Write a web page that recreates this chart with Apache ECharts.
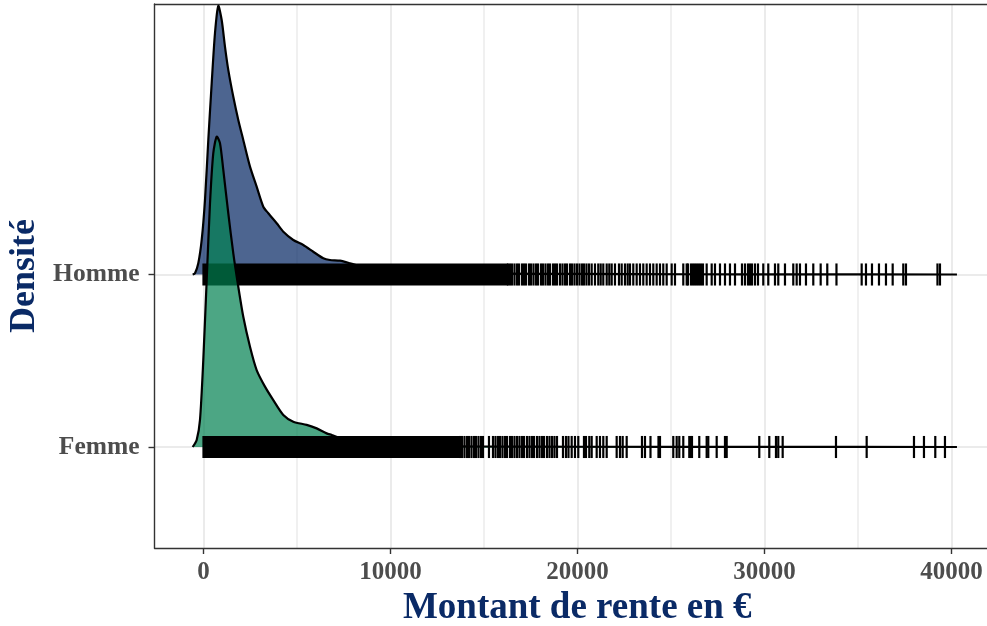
<!DOCTYPE html>
<html>
<head>
<meta charset="utf-8">
<script src="https://cdn.jsdelivr.net/npm/echarts@6/dist/echarts.min.js"></script>
<style>
  html, body { margin: 0; padding: 0; background: #ffffff; }
  #chart { width: 987px; height: 626px; }
</style>
</head>
<body>
<div id="chart"></div>
<script>
// Groups on the ridge axis (Femme = 1, Homme = 2)
const groups = ['Femme', 'Homme'];

// Axis ticks
const xTicks = [0, 10000, 20000, 30000, 40000];
const xMinorTicks = [5000, 15000, 25000, 35000];
const yTicks = [1, 2];

// Scaled density curve, Homme (amount in €, ridge height)
const hommeDensityX = [-578, -455, -278, -96, 80, 257, 438, 615, 791, 973, 1150, 1326, 1594, 1861, 2128, 2487, 2843, 3198, 3465, 3914, 4270, 4802, 5337, 5872, 6406, 6763, 7300, 7834, 8600, 9500, 11000, 13000, 16000, 20000, 26000, 32000, 40294];
const hommeDensityH = [0, 0.007, 0.065, 0.2, 0.432, 0.78, 1.108, 1.40, 1.557, 1.475, 1.32, 1.186, 1.03, 0.896, 0.78, 0.625, 0.509, 0.393, 0.355, 0.297, 0.248, 0.2, 0.171, 0.132, 0.094, 0.084, 0.08, 0.065, 0.04, 0.025, 0.015, 0.009, 0.005, 0.003, 0.0015, 0.0008, 0];

// Scaled density curve, Femme
const femmeDensityX = [-578, -364, -187, -11, 171, 348, 524, 706, 882, 1059, 1326, 1594, 1861, 2128, 2487, 2843, 3288, 3733, 4268, 4802, 5519, 6053, 6588, 6856, 7500, 8500, 10000, 12000, 15000, 20000, 30000, 40294];
const femmeDensityH = [0, 0.041, 0.157, 0.504, 0.968, 1.413, 1.703, 1.799, 1.761, 1.606, 1.355, 1.123, 0.929, 0.755, 0.581, 0.446, 0.35, 0.272, 0.186, 0.147, 0.128, 0.108, 0.079, 0.07, 0.045, 0.025, 0.012, 0.006, 0.003, 0.0015, 0.0005, 0];

// Rug: stretches where the individual amounts merge into one black band
const hommeRugBands = [[0, 16230]];
const femmeRugBands = [[0, 13650]];

// Rug: individual amounts (€)
const hommeRug = [16283, 16390, 16497, 16631, 16765, 16872, 17032, 17139, 17246, 17406, 17513, 17647, 17781, 17888, 18048, 18155, 18289, 18422, 18529, 18690, 18797, 18904, 19064, 19198, 19332, 19438, 19599, 19706, 19840, 19973, 20107, 20241, 20348, 20481, 20615, 20759, 20936, 21112, 21241, 21380, 21562, 21701, 21829, 22005, 22219, 22364, 22540, 22685, 22808, 22984, 23166, 23342, 23519, 23700, 23877, 24054, 24235, 24412, 24588, 24770, 25037, 25214, 25658, 25840, 25909, 26070, 26177, 26283, 26390, 26497, 26604, 26711, 26909, 27177, 27353, 27621, 27888, 28155, 28423, 28797, 28957, 29118, 29225, 29332, 29492, 29653, 29936, 30203, 30562, 30738, 31096, 31540, 31722, 31898, 32219, 32610, 33005, 33358, 33850, 35198, 35428, 35749, 36123, 36497, 36856, 37423, 37567, 39251, 39385];
const femmeRug = [13717, 13824, 13957, 14091, 14198, 14332, 14465, 14572, 14706, 14840, 14947, 15267, 15481, 15615, 15749, 15856, 15989, 16123, 16230, 16390, 16497, 16631, 16765, 16898, 17032, 17139, 17299, 17433, 17567, 17674, 17834, 17968, 18102, 18209, 18369, 18503, 18637, 18770, 18904, 19225, 19385, 19519, 19690, 19866, 20043, 20348, 20455, 20631, 20759, 21027, 21203, 21380, 21562, 22096, 22273, 22417, 22631, 23449, 23610, 23904, 24332, 24412, 25123, 25305, 25444, 25658, 25979, 26053, 26123, 26513, 26909, 26995, 27444, 27888, 27979, 29722, 30257, 30615, 30738, 30973, 33824, 35465, 37995, 38529, 39134, 39652];

const NAVY = '#0a2a66';
const TICK_GREY = '#4d4d4d';
const BORDER = '#333333';
const GRID = '#ebebeb';
const SERIF = '"Liberation Serif", "Times New Roman", serif';
const RUG_HALF = 0.064;   // half height of a rug mark, in ridge units
const RUG_W = 2.2;        // rug mark width, px

function ridgeSeries(base, xs, hs, fill) {
  return {
    type: 'custom',
    coordinateSystem: 'cartesian2d',
    silent: true,
    data: [[xs[0], base]],
    renderItem: function (params, api) {
      const pts = xs.map((x, i) => api.coord([x, base + hs[i]]));
      return {
        type: 'group',
        children: [
          { type: 'polygon', shape: { points: pts, smooth: 0.25 }, style: { fill: fill, stroke: null } },
          { type: 'polyline', shape: { points: pts, smooth: 0.25 }, style: { fill: null, stroke: '#000', lineWidth: 2.2, lineJoin: 'round' } }
        ]
      };
    }
  };
}

function rugBandSeries(base, bands) {
  return {
    type: 'custom',
    coordinateSystem: 'cartesian2d',
    silent: true,
    data: bands.map(b => [b[0], b[1], base]),
    renderItem: function (params, api) {
      const p0 = api.coord([api.value(0), base + RUG_HALF]);
      const p1 = api.coord([api.value(1), base - RUG_HALF]);
      return { type: 'rect', shape: { x: p0[0] - RUG_W / 2, y: p0[1], width: p1[0] - p0[0] + RUG_W, height: p1[1] - p0[1] }, style: { fill: '#000' } };
    }
  };
}

function rugSeries(base, values) {
  return {
    type: 'custom',
    coordinateSystem: 'cartesian2d',
    silent: true,
    data: values.map(v => [v, base]),
    renderItem: function (params, api) {
      const p0 = api.coord([api.value(0), base + RUG_HALF]);
      const p1 = api.coord([api.value(0), base - RUG_HALF]);
      return { type: 'rect', shape: { x: p0[0] - RUG_W / 2, y: p0[1], width: RUG_W, height: p1[1] - p0[1] }, style: { fill: '#000' } };
    }
  };
}

const chart = echarts.init(document.getElementById('chart'), null, { renderer: 'canvas' });

const xMin = -2620, xMax = 41900;

chart.setOption({
  animation: false,
  backgroundColor: '#ffffff',
  grid: { left: 154.5, right: 0, top: 4, bottom: 78, containLabel: false, outerBoundsMode: 'none' },
  xAxis: [
    {
      type: 'value', min: xMin, max: xMax, position: 'bottom',
      axisLine: { show: true, onZero: false, lineStyle: { color: BORDER, width: 1.4 } },
      axisTick: { show: true, length: 6, customValues: xTicks, lineStyle: { color: BORDER, width: 1.4 } },
      axisLabel: { customValues: xTicks, formatter: v => String(v), color: TICK_GREY, fontFamily: SERIF, fontWeight: 'bold', fontSize: 25, margin: 12 },
      splitLine: { show: true, lineStyle: { color: GRID, width: 2 } },
      name: 'Montant de rente en €', nameLocation: 'middle', nameGap: 40,
      nameTextStyle: { color: NAVY, fontFamily: SERIF, fontWeight: 'bold', fontSize: 37, padding: [0, 0, 0, 13] }
    },
    {
      type: 'value', min: xMin, max: xMax, position: 'top',
      axisLine: { show: true, onZero: false, lineStyle: { color: BORDER, width: 1.4 } },
      axisTick: { show: false, customValues: xMinorTicks },
      axisLabel: { show: false, customValues: xMinorTicks },
      splitLine: { show: true, lineStyle: { color: GRID, width: 1.5 } }
    }
  ],
  yAxis: {
    type: 'value', min: 0.4145, max: 3.568,
    axisLine: { show: true, onZero: false, lineStyle: { color: BORDER, width: 1.4 } },
    axisTick: { show: true, length: 6, customValues: yTicks, lineStyle: { color: BORDER, width: 1.4 } },
    axisLabel: {
      customValues: yTicks, color: TICK_GREY, fontFamily: SERIF, fontWeight: 'bold', fontSize: 25.5, margin: 15,
      formatter: v => groups[Math.round(v) - 1]
    },
    splitLine: { show: true, lineStyle: { color: GRID, width: 2 } },
    name: 'Densité', nameLocation: 'middle', nameGap: 110,
    nameTextStyle: { color: NAVY, fontFamily: SERIF, fontWeight: 'bold', fontSize: 36 }
  },
  series: [
    ridgeSeries(2, hommeDensityX, hommeDensityH, 'rgba(2,35,97,0.7)'),
    rugBandSeries(2, hommeRugBands),
    rugSeries(2, hommeRug),
    ridgeSeries(1, femmeDensityX, femmeDensityH, 'rgba(0,128,80,0.7)'),
    rugBandSeries(1, femmeRugBands),
    rugSeries(1, femmeRug)
  ]
});
</script>
</body>
</html>
